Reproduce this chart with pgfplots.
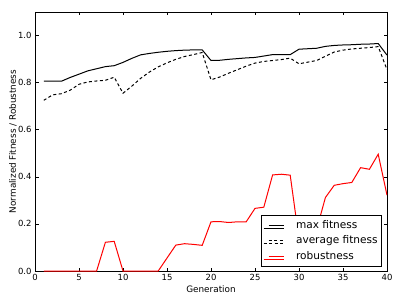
\documentclass[border=0pt]{standalone}
\usepackage{fontspec}
\setmainfont{DejaVu Sans}
\usepackage{pgfplots}
\pgfplotsset{compat=1.18}
\begin{document}
\begin{tikzpicture}
\begin{axis}[
  scale only axis, width=352bp, height=259bp,
  xmin=0, xmax=40, ymin=0, ymax=1.1,
  xtick={0,5,10,15,20,25,30,35,40},
  ytick={0,0.2,0.4,0.6,0.8,1.0},
  tick align=inside, xtick pos=both, ytick pos=both,
  major tick length=3.5bp, minor tick num=0,
  axis line style={line width=0.8bp},
  tick style={line width=0.6bp, black},
  /pgf/number format/assume math mode=true,
  yticklabel style={/pgf/number format/fixed, /pgf/number format/fixed zerofill, /pgf/number format/precision=1, anchor=east},
  ticklabel style={font=\fontsize{8.5}{10}\selectfont},
  xticklabel style={anchor=base, yshift=-9.5bp},
  xlabel={Generation},
  ylabel={Normalized Fitness / Robustness},
  xlabel style={font=\fontsize{8.9}{10}\selectfont, at={(axis description cs:0.5,0)}, anchor=base, yshift=-21bp},
  ylabel style={font=\fontsize{8.9}{10}\selectfont, at={(axis description cs:-0.0625,0.5)}, anchor=center},
  legend image code/.code={\path (0bp,0bp) -- (20bp,0bp); \draw[#1] (5bp,3.3bp) -- (20bp,3.3bp);},
  legend style={at={(1,0)}, anchor=south east, xshift=-5bp, yshift=4bp,
    draw=black, fill=white, line width=0.8bp,
    inner xsep=2bp, inner ysep=5.2bp, row sep=6bp, column sep=9.8bp,
    font=\fontsize{10.6}{12}\selectfont,
    nodes={inner xsep=2bp, inner ysep=0pt, text height=7.5bp, text depth=2bp},
    cells={anchor=base west}},
]
\addplot[black, line width=1bp] coordinates {
(1,0.806) (2,0.806) (3,0.806) (4,0.822) (5,0.836) (6,0.850) (7,0.859) (8,0.868) (9,0.872) (10,0.886)
(11,0.903) (12,0.918) (13,0.924) (14,0.929) (15,0.933) (16,0.936) (17,0.938) (18,0.939) (19,0.939) (20,0.894)
(21,0.895) (22,0.899) (23,0.902) (24,0.905) (25,0.907) (26,0.913) (27,0.919) (28,0.919) (29,0.919) (30,0.942)
(31,0.944) (32,0.946) (33,0.954) (34,0.958) (35,0.960) (36,0.961) (37,0.963) (38,0.964) (39,0.966) (40,0.917)
};
\addlegendentry{max fitness}
\addplot[black, line width=1bp, dash pattern=on 3bp off 2.5bp] coordinates {
(1,0.725) (2,0.748) (3,0.753) (4,0.768) (5,0.793) (6,0.803) (7,0.807) (8,0.810) (9,0.823) (10,0.755)
(11,0.785) (12,0.818) (13,0.845) (14,0.867) (15,0.884) (16,0.899) (17,0.911) (18,0.919) (19,0.928) (20,0.812)
(21,0.824) (22,0.840) (23,0.855) (24,0.870) (25,0.883) (26,0.890) (27,0.894) (28,0.898) (29,0.904) (30,0.880)
(31,0.887) (32,0.894) (33,0.912) (34,0.930) (35,0.938) (36,0.943) (37,0.946) (38,0.949) (39,0.953) (40,0.855)
};
\addlegendentry{average fitness}
\addplot[red, line width=1bp] coordinates {
(1,0) (2,0) (3,0) (4,0) (5,0) (6,0) (7,0) (8,0.122) (9,0.126) (10,0)
(11,0) (12,0) (13,0) (14,0) (15,0.055) (16,0.110) (17,0.116) (18,0.113) (19,0.109) (20,0.209)
(21,0.210) (22,0.206) (23,0.209) (24,0.209) (25,0.266) (26,0.271) (27,0.408) (28,0.411) (29,0.407) (30,0.135)
(31,0.150) (32,0.176) (33,0.312) (34,0.364) (35,0.371) (36,0.376) (37,0.439) (38,0.432) (39,0.496) (40,0.322)
};
\addlegendentry{robustness}
\end{axis}
\pgfresetboundingbox
\path ([shift={(-35bp,-22bp)}]current axis.south west) rectangle ([shift={(6bp,12bp)}]current axis.north east);
\end{tikzpicture}
\end{document}
